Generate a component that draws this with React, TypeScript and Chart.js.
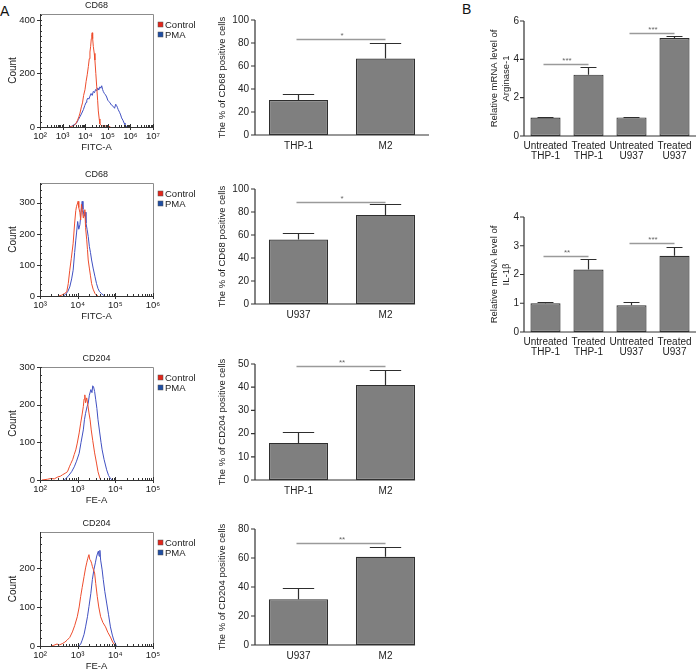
import React, { useEffect, useRef } from 'react';
import { Chart, registerables } from 'chart.js';

Chart.register(...registerables);

const FONT = '"Liberation Sans", Arial, Helvetica, sans-serif';
const TXT = '#222222';
const AXIS = '#333333';
const BOX = '#8c8c8c';
const RED = '#ee4d2d';
const BLUE = '#4050c2';
const RED_SQ = '#e2261b';
const BLUE_SQ = '#1f4ea3';
const BAR_FILL = '#7f7f7f';
const BAR_EDGE = '#2e2e2e';
const SIG = '#9a9a9a';

// ---------------- DATA ----------------
const legendLabels = ['Control', 'PMA'];

// Histogram 1: CD68 (THP-1) — log10(FITC-A) and counts
const h1Decades = [2, 3, 4, 5, 6, 7];
const h1YTicks = [0, 200, 400];
const h1CtlExp = [3.30, 3.40, 3.50, 3.58, 3.66, 3.72, 3.77, 3.83, 3.88, 3.93, 3.99, 4.04, 4.09, 4.14, 4.18, 4.21, 4.24, 4.27, 4.29, 4.31, 4.33, 4.36, 4.40, 4.43, 4.47, 4.51, 4.55, 4.58, 4.62, 4.65, 4.70, 4.78, 4.86, 4.95, 5.05, 5.12];
const h1CtlCount = [0, 2, 5, 12, 25, 38, 52, 75, 90, 118, 139, 170, 195, 226, 255, 280, 300, 330, 345, 352, 330, 300, 275, 250, 200, 150, 100, 60, 30, 12, 6, 4, 5, 2, 3, 0];
const h1PmaExp = [3.30, 3.40, 3.50, 3.62, 3.70, 3.78, 3.85, 3.92, 3.98, 4.04, 4.07, 4.12, 4.16, 4.21, 4.26, 4.31, 4.36, 4.41, 4.46, 4.51, 4.56, 4.60, 4.65, 4.69, 4.73, 4.77, 4.80, 4.85, 4.90, 4.95, 5.00, 5.05, 5.10, 5.16, 5.24, 5.30, 5.35, 5.39, 5.43, 5.46, 5.52, 5.57, 5.61, 5.67, 5.72, 5.76, 5.80, 5.84];
const h1PmaCount = [0, 3, 8, 15, 28, 40, 52, 65, 80, 92, 100, 108, 104, 115, 125, 118, 133, 128, 140, 135, 146, 138, 150, 145, 154, 140, 133, 125, 120, 112, 100, 95, 90, 82, 77, 70, 85, 80, 72, 65, 55, 45, 34, 25, 15, 9, 4, 0];

// Histogram 2: CD68 (U937)
const h2Decades = [3, 4, 5, 6];
const h2YTicks = [0, 100, 200, 300];
const h2CtlExp = [3.50, 3.58, 3.65, 3.71, 3.75, 3.79, 3.83, 3.88, 3.92, 3.95, 3.97, 4.00, 4.01, 4.03, 4.06, 4.08, 4.10, 4.13, 4.15, 4.17, 4.19, 4.21, 4.24, 4.26, 4.28, 4.31, 4.34, 4.37, 4.41, 4.46, 4.50, 4.54];
const h2CtlCount = [0, 3, 8, 13, 40, 83, 120, 170, 235, 275, 289, 300, 305, 285, 268, 245, 295, 270, 251, 260, 278, 220, 181, 150, 116, 90, 65, 40, 22, 8, 3, 0];
const h2PmaExp = [3.62, 3.68, 3.74, 3.79, 3.84, 3.88, 3.92, 3.95, 3.97, 4.00, 4.03, 4.06, 4.09, 4.12, 4.14, 4.17, 4.20, 4.22, 4.25, 4.28, 4.31, 4.34, 4.37, 4.41, 4.46, 4.50, 4.54, 4.58, 4.63, 4.68, 4.72];
const h2PmaCount = [0, 5, 15, 29, 55, 83, 140, 180, 203, 240, 215, 230, 270, 305, 280, 257, 270, 235, 215, 192, 160, 140, 116, 90, 62, 40, 24, 14, 8, 3, 0];

// Histogram 3: CD204 (THP-1)
const h3Decades = [2, 3, 4, 5];
const h3YTicks = [0, 100, 200, 300];
const h3CtlExp = [2.05, 2.20, 2.29, 2.38, 2.47, 2.54, 2.60, 2.67, 2.73, 2.78, 2.82, 2.87, 2.91, 2.95, 2.99, 3.04, 3.08, 3.12, 3.15, 3.17, 3.19, 3.21, 3.24, 3.27, 3.30, 3.33, 3.36, 3.40, 3.45, 3.50, 3.54, 3.58, 3.61];
const h3CtlCount = [0, 2, 4, 3, 8, 10, 14, 18, 22, 35, 44, 55, 68, 80, 98, 125, 151, 175, 195, 215, 226, 205, 218, 200, 178, 160, 133, 105, 72, 45, 22, 8, 0];
const h3PmaExp = [2.64, 2.70, 2.77, 2.84, 2.91, 2.97, 3.04, 3.09, 3.15, 3.18, 3.21, 3.25, 3.28, 3.31, 3.35, 3.38, 3.40, 3.42, 3.45, 3.48, 3.51, 3.54, 3.58, 3.62, 3.65, 3.70, 3.77, 3.82, 3.87, 3.92];
const h3PmaCount = [0, 5, 13, 22, 35, 50, 71, 100, 133, 160, 177, 195, 204, 225, 240, 232, 250, 248, 235, 213, 190, 160, 130, 100, 80, 55, 27, 12, 4, 0];

// Histogram 4: CD204 (U937)
const h4Decades = [2, 3, 4, 5];
const h4YTicks = [0, 100, 200];
const h4CtlExp = [2.30, 2.37, 2.45, 2.52, 2.59, 2.66, 2.72, 2.79, 2.86, 2.92, 2.99, 3.04, 3.08, 3.12, 3.17, 3.21, 3.24, 3.27, 3.30, 3.32, 3.34, 3.37, 3.39, 3.42, 3.45, 3.48, 3.52, 3.56, 3.61, 3.67, 3.74, 3.80, 3.87, 3.93, 4.00];
const h4CtlCount = [0, 2, 5, 3, 6, 10, 15, 22, 36, 52, 75, 100, 127, 150, 178, 200, 213, 225, 234, 222, 220, 212, 204, 195, 187, 160, 127, 100, 75, 60, 49, 35, 23, 10, 0];
const h4PmaExp = [3.03, 3.08, 3.12, 3.17, 3.21, 3.26, 3.30, 3.35, 3.39, 3.43, 3.47, 3.50, 3.53, 3.55, 3.57, 3.59, 3.61, 3.65, 3.68, 3.72, 3.77, 3.82, 3.87, 3.92, 3.96, 4.03];
const h4PmaCount = [0, 5, 15, 30, 49, 75, 101, 135, 170, 195, 213, 228, 238, 243, 230, 245, 220, 195, 170, 140, 110, 80, 49, 28, 15, 0];

// Bar charts (panel A)
const a1Labels = ['THP-1', 'M2'];
const a1Values = [30.5, 66.5];
const a1Errors = [36, 80];
const a1Ticks = [0, 20, 40, 60, 80, 100];
const a1Sig = [83.5];
const a1Stars = ['*'];

const a2Labels = ['U937', 'M2'];
const a2Values = [56, 77.5];
const a2Errors = [61.5, 87];
const a2Ticks = [0, 20, 40, 60, 80, 100];
const a2Sig = [89];
const a2Stars = ['*'];

const a3Labels = ['THP-1', 'M2'];
const a3Values = [16, 41];
const a3Errors = [20.5, 47.5];
const a3Ticks = [0, 10, 20, 30, 40, 50];
const a3Sig = [49];
const a3Stars = ['**'];

const a4Labels = ['U937', 'M2'];
const a4Values = [31.5, 60.8];
const a4Errors = [39, 67.8];
const a4Ticks = [0, 20, 40, 60, 80];
const a4Sig = [70.4];
const a4Stars = ['**'];

// Bar charts (panel B)
const bLabels = [['Untreated', 'THP-1'], ['Treated', 'THP-1'], ['Untreated', 'U937'], ['Treated', 'U937']];
const b1Values = [0.96, 3.2, 0.97, 5.11];
const b1Errors = [1.0, 3.6, 1.0, 5.24];
const b1Ticks = [0, 2, 4, 6];
const b1Sig = [3.78, 5.39];
const b1Stars = ['***', '***'];

const b2Values = [1.0, 2.17, 0.93, 2.65];
const b2Errors = [1.03, 2.53, 1.03, 2.96];
const b2Ticks = [0, 1, 2, 3, 4];
const b2Sig = [2.64, 3.1];
const b2Stars = ['**', '***'];

const SUP: Record<number, string> = { 2: '²', 3: '³', 4: '⁴', 5: '⁵', 6: '⁶', 7: '⁷' };

// ---------------- HISTOGRAM ----------------
const H_LEFT = 40;
const H_RIGHT = 153;
const H_W = 205;
const H_XH = 26;

function HistPanel(p: any) {
  const ref = useRef<HTMLCanvasElement>(null);
  const H = p.areaBottom - p.canvasTop + H_XH;
  useEffect(() => {
    const toPts = (e: number[], c: number[]) => e.map((v, i) => ({ x: Math.pow(10, v), y: c[i] }));
    const decor = {
      id: 'histDecor',
      afterDraw(chart: any) {
        const { ctx, chartArea: a, scales } = chart;
        const xs = scales.x;
        const ys = scales.y;
        ctx.save();
        ctx.lineWidth = 1;
        ctx.strokeStyle = BOX;
        ctx.beginPath();
        ctx.moveTo(a.left, a.top + 0.5);
        ctx.lineTo(a.right + 0.5, a.top + 0.5);
        ctx.lineTo(a.right + 0.5, a.bottom);
        ctx.stroke();
        ctx.strokeStyle = AXIS;
        ctx.beginPath();
        ctx.moveTo(a.left + 0.5, a.top);
        ctx.lineTo(a.left + 0.5, a.bottom + 0.5);
        ctx.lineTo(a.right + 0.5, a.bottom + 0.5);
        ctx.stroke();
        // x ticks
        ctx.beginPath();
        const decs: number[] = p.decades;
        for (let d = 0; d < decs.length; d++) {
          const e = decs[d];
          const px = Math.round(xs.getPixelForValue(Math.pow(10, e))) + 0.5;
          ctx.moveTo(px, a.bottom - 3);
          ctx.lineTo(px, a.bottom + 3);
          if (d < decs.length - 1) {
            for (let k = 2; k <= 9; k++) {
              const mx = Math.round(xs.getPixelForValue(k * Math.pow(10, e))) + 0.5;
              ctx.moveTo(mx, a.bottom - 2);
              ctx.lineTo(mx, a.bottom);
            }
          }
        }
        // y ticks
        const yt: number[] = p.yTicks;
        yt.forEach((v) => {
          const py = Math.round(ys.getPixelForValue(v)) + 0.5;
          ctx.moveTo(a.left - 3, py);
          ctx.lineTo(a.left, py);
        });
        for (let v = 20; v <= p.yMax; v += 20) {
          const py = Math.round(ys.getPixelForValue(v)) + 0.5;
          ctx.moveTo(a.left, py);
          ctx.lineTo(a.left + 2, py);
        }
        ctx.stroke();
        // title
        ctx.fillStyle = TXT;
        ctx.font = `9px ${FONT}`;
        ctx.textAlign = 'center';
        ctx.textBaseline = 'middle';
        ctx.fillText(p.title, (a.left + a.right) / 2, a.top - 8);
        // legend
        const lx = a.right + 5;
        const ly = a.top + 8;
        ctx.fillStyle = RED_SQ;
        ctx.fillRect(lx, ly, 5, 5);
        ctx.fillStyle = BLUE_SQ;
        ctx.fillRect(lx, ly + 10, 5, 5);
        ctx.strokeStyle = '#555';
        ctx.lineWidth = 0.5;
        ctx.strokeRect(lx, ly, 5, 5);
        ctx.strokeRect(lx, ly + 10, 5, 5);
        ctx.fillStyle = TXT;
        ctx.font = `9.5px ${FONT}`;
        ctx.textAlign = 'left';
        ctx.fillText(legendLabels[0], lx + 7, ly + 3);
        ctx.fillText(legendLabels[1], lx + 7, ly + 13);
        ctx.restore();
      },
    };
    const chart = new Chart(ref.current as HTMLCanvasElement, {
      type: 'line',
      data: {
        datasets: [
          { label: legendLabels[0], data: toPts(p.ctlExp, p.ctlCount), borderColor: RED, borderWidth: 1, pointRadius: 0, tension: 0, fill: false },
          { label: legendLabels[1], data: toPts(p.pmaExp, p.pmaCount), borderColor: BLUE, borderWidth: 1, pointRadius: 0, tension: 0, fill: false },
        ],
      },
      options: {
        responsive: false,
        animation: false,
        events: [],
        layout: { padding: { left: 0, right: H_W - H_RIGHT, top: p.areaTop - p.canvasTop, bottom: 0 } },
        plugins: { legend: { display: false }, tooltip: { enabled: false }, title: { display: false } },
        scales: {
          x: {
            type: 'logarithmic',
            min: Math.pow(10, p.decades[0]),
            max: Math.pow(10, p.decades[p.decades.length - 1]),
            afterBuildTicks: (s: any) => { s.ticks = p.decades.map((e: number) => ({ value: Math.pow(10, e) })); },
            afterFit: (s: any) => { s.height = H_XH; },
            grid: { display: false, drawTicks: false },
            border: { display: false },
            ticks: {
              autoSkip: false, maxRotation: 0, minRotation: 0, padding: 4, color: TXT,
              font: { family: FONT, size: 9.5 },
              callback: (v: any) => '10' + SUP[Math.round(Math.log10(Number(v)))],
            },
            title: { display: true, text: p.xTitle, color: TXT, font: { family: FONT, size: 9.5 }, padding: 0 },
          },
          y: {
            type: 'linear',
            min: 0,
            max: p.yMax,
            afterBuildTicks: (s: any) => { s.ticks = p.yTicks.map((v: number) => ({ value: v })); },
            afterFit: (s: any) => { s.width = H_LEFT; },
            grid: { display: false, drawTicks: false },
            border: { display: false },
            ticks: { padding: 5, color: TXT, font: { family: FONT, size: 9.5 } },
            title: { display: true, text: 'Count', color: TXT, font: { family: FONT, size: 10 }, padding: { top: 7, bottom: 0 } },
          },
        },
      } as any,
      plugins: [decor],
    });
    return () => chart.destroy();
  }, []);
  return (
    <canvas
      ref={ref}
      width={H_W}
      height={H}
      style={{ position: 'absolute', left: 0, top: p.canvasTop, width: H_W, height: H }}
    />
  );
}

// ---------------- BAR ----------------
function BarPanel(p: any) {
  const ref = useRef<HTMLCanvasElement>(null);
  const H = p.areaBottom - p.canvasTop + p.xH;
  useEffect(() => {
    const decor = {
      id: 'barDecor',
      afterDatasetsDraw(chart: any) {
        const { ctx, chartArea: a, scales } = chart;
        const ys = scales.y;
        const meta = chart.getDatasetMeta(0);
        const bars = meta.data;
        ctx.save();
        // error bars
        ctx.strokeStyle = BAR_EDGE;
        ctx.lineWidth = 1.2;
        ctx.beginPath();
        bars.forEach((bar: any, i: number) => {
          const top = ys.getPixelForValue(p.values[i]);
          const e = Math.round(ys.getPixelForValue(p.errors[i])) + 0.5;
          const hw = (bar.width * 0.53) / 2;
          ctx.moveTo(bar.x, top);
          ctx.lineTo(bar.x, e);
          ctx.moveTo(bar.x - hw, e);
          ctx.lineTo(bar.x + hw, e);
        });
        ctx.stroke();
        // axes
        ctx.strokeStyle = AXIS;
        ctx.lineWidth = 1.2;
        const last = bars[bars.length - 1];
        const xEnd = p.axisFull ? a.right : last.x + last.width / 2;
        ctx.beginPath();
        ctx.moveTo(a.left, a.top);
        ctx.lineTo(a.left, a.bottom);
        ctx.lineTo(xEnd, a.bottom);
        p.ticks.forEach((v: number) => {
          const py = ys.getPixelForValue(v);
          ctx.moveTo(a.left - 4, py);
          ctx.lineTo(a.left, py);
        });
        ctx.stroke();
        // significance
        ctx.strokeStyle = SIG;
        ctx.lineWidth = 1.3;
        ctx.fillStyle = '#666';
        ctx.font = `8px ${FONT}`;
        ctx.textAlign = 'center';
        ctx.textBaseline = 'alphabetic';
        p.sig.forEach((v: number, k: number) => {
          const b0 = bars[k * 2];
          const b1 = bars[k * 2 + 1];
          const py = Math.round(ys.getPixelForValue(v)) + 0.5;
          ctx.beginPath();
          ctx.moveTo(b0.x - 2, py);
          ctx.lineTo(b1.x, py);
          ctx.stroke();
          ctx.fillText(p.stars[k], (b0.x + b1.x) / 2, py - 2);
        });
        ctx.restore();
      },
    };
    const chart = new Chart(ref.current as HTMLCanvasElement, {
      type: 'bar',
      data: {
        labels: p.labels,
        datasets: [
          {
            data: p.values,
            backgroundColor: BAR_FILL,
            borderColor: BAR_EDGE,
            borderWidth: 1.2,
            borderSkipped: false,
            barPercentage: p.barPct,
            categoryPercentage: 1,
          },
        ],
      },
      options: {
        responsive: false,
        animation: false,
        events: [],
        layout: { padding: { left: 0, right: p.left + p.width - p.areaRight, top: p.areaTop - p.canvasTop, bottom: 0 } },
        plugins: { legend: { display: false }, tooltip: { enabled: false }, title: { display: false } },
        scales: {
          x: {
            type: 'category',
            afterFit: (s: any) => { s.height = p.xH; },
            grid: { display: false, drawTicks: false },
            border: { display: false },
            ticks: {
              autoSkip: false, maxRotation: 0, minRotation: 0, padding: p.labelPad, color: TXT,
              font: { family: FONT, size: 10, lineHeight: 1.0 },
            },
          },
          y: {
            type: 'linear',
            min: 0,
            max: p.ticks[p.ticks.length - 1],
            afterBuildTicks: (s: any) => { s.ticks = p.ticks.map((v: number) => ({ value: v })); },
            afterFit: (s: any) => { s.width = p.areaLeft - p.left; },
            grid: { display: false, drawTicks: false },
            border: { display: false },
            ticks: { padding: p.tickPad, color: TXT, font: { family: FONT, size: 10 } },
            title: {
              display: true, text: p.yTitle, color: TXT,
              font: { family: FONT, size: 9.5, lineHeight: 1.2 },
              padding: { top: p.titlePad, bottom: 0 },
            },
          },
        },
      } as any,
      plugins: [decor],
    });
    return () => chart.destroy();
  }, []);
  return (
    <canvas
      ref={ref}
      width={p.width}
      height={H}
      style={{ position: 'absolute', left: p.left, top: p.canvasTop, width: p.width, height: H }}
    />
  );
}

export default function App() {
  const letter = { position: 'absolute' as const, fontFamily: FONT, fontSize: 14, color: '#111', lineHeight: '14px' };
  const aCommon = { left: 180, width: 250, areaLeft: 255, areaRight: 429, xH: 25, barPct: 0.68, labelPad: 6, tickPad: 6, titlePad: 37 };
  const bCommon = { left: 440, width: 258, areaLeft: 524, areaRight: 696, xH: 30, barPct: 0.7, labelPad: 5, tickPad: 5, titlePad: 49, axisFull: true, labels: bLabels };
  return (
    <div style={{ position: 'absolute', left: 0, top: 0, width: 698, height: 669, overflow: 'hidden', background: '#fff' }}>
      <div style={{ ...letter, left: 0, top: 4 }}>A</div>
      <div style={{ ...letter, left: 462, top: 2 }}>B</div>

      <HistPanel canvasTop={0} areaTop={14} areaBottom={127} title="CD68" xTitle="FITC-A" decades={h1Decades} yTicks={h1YTicks} yMax={422}
        ctlExp={h1CtlExp} ctlCount={h1CtlCount} pmaExp={h1PmaExp} pmaCount={h1PmaCount} />
      <HistPanel canvasTop={160} areaTop={183} areaBottom={296} title="CD68" xTitle="FITC-A" decades={h2Decades} yTicks={h2YTicks} yMax={364}
        ctlExp={h2CtlExp} ctlCount={h2CtlCount} pmaExp={h2PmaExp} pmaCount={h2PmaCount} />
      <HistPanel canvasTop={330} areaTop={367} areaBottom={480} title="CD204" xTitle="FE-A" decades={h3Decades} yTicks={h3YTicks} yMax={300}
        ctlExp={h3CtlExp} ctlCount={h3CtlCount} pmaExp={h3PmaExp} pmaCount={h3PmaCount} />
      <HistPanel canvasTop={500} areaTop={532} areaBottom={646} title="CD204" xTitle="FE-A" decades={h4Decades} yTicks={h4YTicks} yMax={292}
        ctlExp={h4CtlExp} ctlCount={h4CtlCount} pmaExp={h4PmaExp} pmaCount={h4PmaCount} />

      <BarPanel {...aCommon} canvasTop={0} areaTop={20} areaBottom={135} axisFull={true} labels={a1Labels} values={a1Values} errors={a1Errors}
        ticks={a1Ticks} sig={a1Sig} stars={a1Stars} yTitle="The % of CD68 positive cells" />
      <BarPanel {...aCommon} canvasTop={160} areaTop={189} areaBottom={304} axisFull={false} labels={a2Labels} values={a2Values} errors={a2Errors}
        ticks={a2Ticks} sig={a2Sig} stars={a2Stars} yTitle="The % of CD68 positive cells" />
      <BarPanel {...aCommon} canvasTop={320} areaTop={364} areaBottom={480} axisFull={false} labels={a3Labels} values={a3Values} errors={a3Errors}
        ticks={a3Ticks} sig={a3Sig} stars={a3Stars} yTitle="The % of CD204 positive cells" />
      <BarPanel {...aCommon} canvasTop={480} areaTop={529} areaBottom={645} axisFull={false} labels={a4Labels} values={a4Values} errors={a4Errors}
        ticks={a4Ticks} sig={a4Sig} stars={a4Stars} yTitle="The % of CD204 positive cells" />

      <BarPanel {...bCommon} canvasTop={0} areaTop={21} areaBottom={136} values={b1Values} errors={b1Errors}
        ticks={b1Ticks} sig={b1Sig} stars={b1Stars} yTitle={['Relative mRNA level of', 'Arginase-1']} />
      <BarPanel {...bCommon} canvasTop={190} areaTop={217} areaBottom={332} values={b2Values} errors={b2Errors}
        ticks={b2Ticks} sig={b2Sig} stars={b2Stars} yTitle={['Relative mRNA level of', 'IL-1β']} />
    </div>
  );
}
